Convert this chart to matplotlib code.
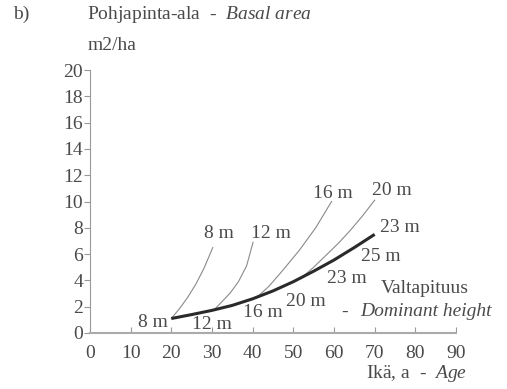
import matplotlib
matplotlib.use("Agg")
import matplotlib.pyplot as plt

# dominant height trajectory (thick line)
main_age = [20, 25, 30, 35, 40, 45, 50, 55, 60, 65, 70]
main_ba = [1.1, 1.4, 1.72, 2.1, 2.6, 3.2, 3.9, 4.7, 5.55, 6.5, 7.5]

# thin curves branching off at given dominant height
h8_age = [20, 22, 24, 26, 28, 30.2]
h8_ba = [1.1, 1.85, 2.7, 3.7, 4.9, 6.5]
h12_age = [30.5, 32.5, 34.5, 36.5, 38.5, 40.1]
h12_ba = [1.75, 2.4, 3.05, 3.9, 5.1, 6.9]
h16_age = [41, 44, 47.5, 51.5, 55.5, 59.4]
h16_ba = [2.7, 3.55, 4.8, 6.3, 8.0, 10.0]
h20_age = [52, 55, 58, 61, 64, 67, 70]
h20_ba = [4.2, 5.0, 5.9, 6.8, 7.8, 8.9, 10.1]

xticks = list(range(0, 100, 10))
yticks = list(range(0, 22, 2))

txt = "#4a4a4a"
plt.rcParams['font.family'] = ['Liberation Serif', 'DejaVu Serif']
plt.rcParams['mathtext.fontset'] = 'custom'
plt.rcParams['mathtext.rm'] = 'Liberation Serif'
plt.rcParams['mathtext.it'] = 'Liberation Serif:italic'

fig = plt.figure(figsize=(5.07, 3.89), dpi=100)
ax = fig.add_axes([0.1775, 0.144, 0.7219, 0.676])

for a, b in [(h8_age, h8_ba), (h12_age, h12_ba), (h16_age, h16_ba), (h20_age, h20_ba)]:
    ax.plot(a, b, color='#8a8a8a', lw=0.8)
ax.plot(main_age, main_ba, color='#2a2a2a', lw=2.2, solid_capstyle='butt')

ax.set_xlim(0, 90)
ax.set_ylim(0, 20)
ax.set_xticks(xticks)
ax.set_yticks(yticks)
ax.tick_params(axis='x', direction='in', length=4, colors='#999999', labelcolor=txt, labelsize=14, pad=8.5)
ax.tick_params(axis='y', direction='out', length=4, colors='#999999', labelcolor=txt, labelsize=14, pad=1)
for s in ['top', 'right']:
    ax.spines[s].set_visible(False)
ax.spines['left'].set_color('#999999')
ax.spines['bottom'].set_color('#aaaaaa')
ax.spines['bottom'].set_linewidth(1.5)

kw = dict(fontsize=14, color=txt, ha='center', va='center', clip_on=False)
# labels at curve ends
ax.text(31.7, 7.6, "8 m", **kw)
ax.text(44.5, 7.6, "12 m", **kw)
ax.text(59.7, 10.64, "16 m", **kw)
ax.text(74.3, 10.87, "20 m", **kw)
ax.text(76.2, 8.06, "23 m", **kw)
# labels along dominant height line
ax.text(71.5, 5.78, "25 m", **kw)
ax.text(63.2, 4.18, "23 m", **kw)
ax.text(53.1, 2.36, "20 m", **kw)
ax.text(42.5, 1.52, "16 m", **kw)
ax.text(30.0, 0.61, "12 m", **kw)
ax.text(15.5, 0.76, "8 m", **kw)
ax.text(82.4, 3.42, "Valtapituus", **kw)
ax.text(62.7, 1.6, "-", **kw)
ax.text(66.4, 1.6, "Dominant height", fontsize=14, color=txt, style='italic',
        ha='left', va='center', clip_on=False)

fig.text(0.026, 0.962, "b)", fontsize=14, color=txt, va='center')
fig.text(0.172, 0.962, "Pohjapinta-ala  -  $\\it{Basal\\ area}$", fontsize=14, color=txt, va='center')
fig.text(0.172, 0.884, "m2/ha", fontsize=14, color=txt, va='center')
fig.text(0.921, 0.041, "Ikä, a  -  $\\it{Age}$", fontsize=14, color=txt, va='center', ha='right')

fig.savefig("out.png", dpi=100)
